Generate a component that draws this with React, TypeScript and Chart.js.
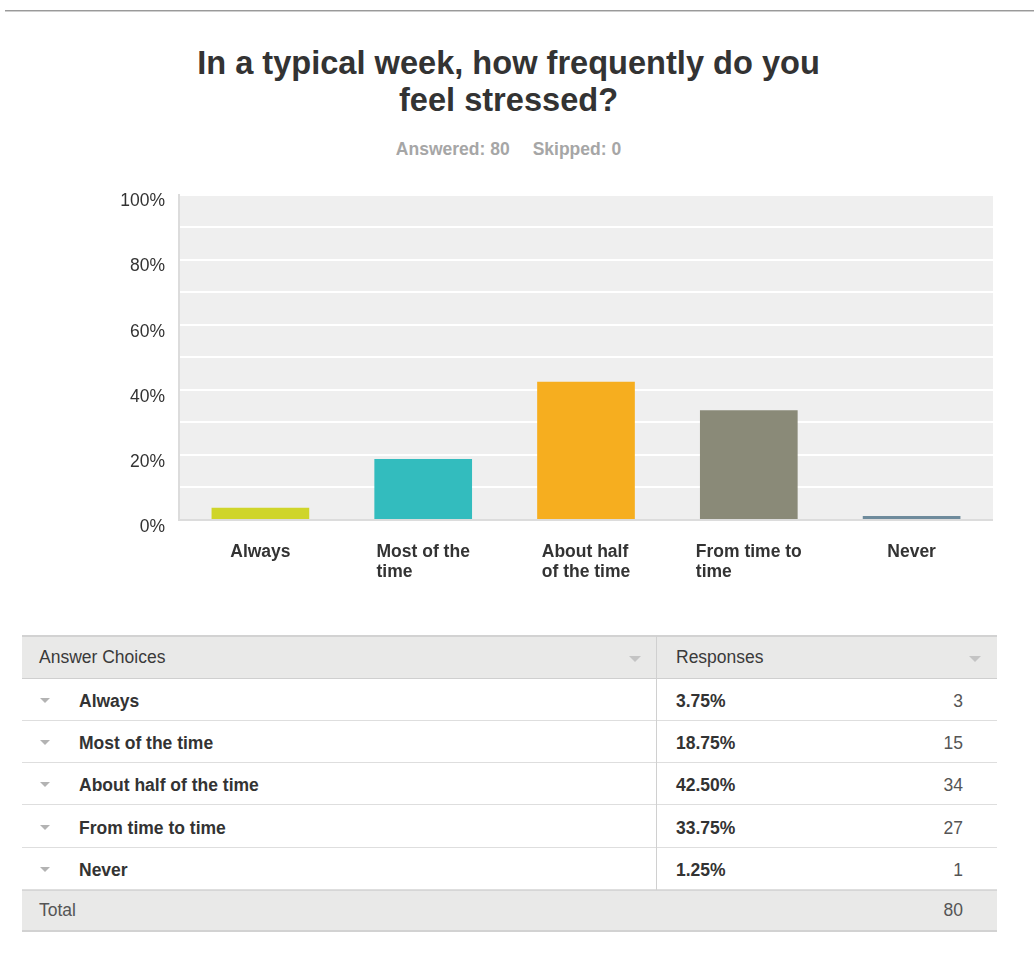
import React, { useEffect, useRef } from 'react';
import { Chart, registerables } from 'chart.js';

Chart.register(...registerables);

const titleLines = ['In a typical week, how frequently do you', 'feel stressed?'];
const answeredText = 'Answered: 80';
const skippedText = 'Skipped: 0';

const choiceNames = ['Always', 'Most of the time', 'About half of the time', 'From time to time', 'Never'];
const categoryLines = [['Always'], ['Most of the', 'time'], ['About half', 'of the time'], ['From time to', 'time'], ['Never']];
const percentages = [3.75, 18.75, 42.5, 33.75, 1.25];
const percentLabels = ['3.75%', '18.75%', '42.50%', '33.75%', '1.25%'];
const counts = [3, 15, 34, 27, 1];
const totalCount = 80;
const barColors = ['#cfd52a', '#33bcbe', '#f6ae1f', '#8a8a78', '#6e8b9c'];

const FONT = '"Liberation Sans", Arial, Helvetica, sans-serif';

const plotPlugin = {
  id: 'plotPlugin',
  beforeDraw(chart: any) {
    const { ctx, chartArea: a } = chart;
    ctx.save();
    ctx.fillStyle = '#efefef';
    ctx.fillRect(a.left, a.top, a.right - a.left, a.bottom - a.top + 1);
    ctx.restore();
  },
  afterDraw(chart: any) {
    const { ctx, chartArea: a } = chart;
    const xs = chart.scales.x;
    ctx.save();
    ctx.font = `bold 17.5px ${FONT}`;
    ctx.fillStyle = '#333333';
    ctx.textBaseline = 'middle';
    ctx.textAlign = 'left';
    categoryLines.forEach((lines, i) => {
      const cx = xs.getPixelForValue(i);
      const w = Math.max(...lines.map((l) => ctx.measureText(l).width));
      lines.forEach((l, j) => ctx.fillText(l, cx - w / 2, a.bottom + 32 + j * 20));
    });
    ctx.restore();
  },
};

function BarChart() {
  const ref = useRef<HTMLCanvasElement>(null);
  useEffect(() => {
    const chart = new Chart(ref.current as HTMLCanvasElement, {
      type: 'bar',
      data: {
        labels: choiceNames,
        datasets: [
          {
            data: percentages,
            backgroundColor: barColors,
            borderWidth: 0,
            barPercentage: 0.6,
            categoryPercentage: 1,
          },
        ],
      },
      options: {
        responsive: false,
        animation: false,
        devicePixelRatio: 1,
        layout: { padding: { top: 10, left: 0, right: 0, bottom: 0 } },
        plugins: { legend: { display: false }, tooltip: { enabled: false }, title: { display: false } },
        scales: {
          x: {
            grid: { display: false },
            border: { display: true, color: '#dcdcdc', width: 2 },
            ticks: { display: false },
            afterFit: (s: any) => {
              s.height = 80;
            },
          },
          y: {
            min: 0,
            max: 100,
            grid: { color: '#ffffff', lineWidth: 2, drawTicks: false },
            border: { display: true, color: '#dcdcdc', width: 2 },
            ticks: {
              stepSize: 10,
              padding: 14,
              labelOffset: 7,
              color: '#333333',
              font: { family: FONT, size: 17.5 },
              callback: (v: any) => (Number(v) % 20 === 0 ? `${v}%` : ''),
            },
            afterFit: (s: any) => {
              s.width = 79;
            },
          },
        },
      },
      plugins: [plotPlugin],
    } as any);
    return () => chart.destroy();
  }, []);
  return (
    <canvas
      ref={ref}
      width={893}
      height={430}
      style={{ position: 'absolute', left: 100, top: 170, width: 893, height: 430 }}
    />
  );
}

function Tri({ left, top, w, h, color }: { left: number; top: number; w: number; h: number; color: string }) {
  return (
    <div
      style={{
        position: 'absolute',
        left,
        top,
        width: 0,
        height: 0,
        borderLeft: `${w / 2}px solid transparent`,
        borderRight: `${w / 2}px solid transparent`,
        borderTop: `${h}px solid ${color}`,
      }}
    />
  );
}

export default function App() {
  const rowTops = choiceNames.map((_, i) => 679 + Math.round(i * 42.2));
  const cell: React.CSSProperties = {
    position: 'absolute',
    display: 'flex',
    alignItems: 'center',
    fontFamily: FONT,
    fontSize: 17.5,
    whiteSpace: 'nowrap',
  };
  return (
    <div style={{ position: 'absolute', left: 0, top: 0, width: 1034, height: 958, background: '#fff', overflow: 'hidden' }}>
      <div style={{ position: 'absolute', left: 5, top: 10, width: 1029, height: 1, background: '#9a9a9a' }} />
      <div style={{ position: 'absolute', left: 5, top: 11, width: 1029, height: 1, background: '#cfcfcf' }} />

      <div
        style={{
          position: 'absolute',
          left: 0,
          top: 44,
          width: 1017,
          textAlign: 'center',
          fontFamily: FONT,
          fontWeight: 'bold',
          fontSize: 32.6,
          lineHeight: '37px',
          color: '#333333',
        }}
      >
        {titleLines.map((l, i) => (
          <div key={i}>{l}</div>
        ))}
      </div>
      <div
        style={{
          position: 'absolute',
          left: 0,
          top: 139,
          width: 1017,
          textAlign: 'center',
          fontFamily: FONT,
          fontWeight: 'bold',
          fontSize: 17.5,
          lineHeight: '20px',
          color: '#a6a6a6',
          whiteSpace: 'nowrap',
        }}
      >
        <span>{answeredText}</span>
        <span style={{ marginLeft: 23 }}>{skippedText}</span>
      </div>

      <BarChart />

      {/* table header */}
      <div style={{ position: 'absolute', left: 22, top: 635, width: 975, height: 44, background: '#e9e9e8', borderTop: '2px solid #d2d2d2', borderBottom: '1px solid #cfcfcf', boxSizing: 'border-box' }} />
      <div style={{ ...cell, left: 39, top: 636, height: 43, color: '#3a3a3a' }}>Answer Choices</div>
      <div style={{ ...cell, left: 676, top: 636, height: 43, color: '#3a3a3a' }}>Responses</div>
      <Tri left={629} top={656} w={12} h={6} color="#c4c4c4" />
      <Tri left={969} top={656} w={12} h={6} color="#c4c4c4" />

      {choiceNames.map((name, i) => (
        <React.Fragment key={name}>
          <div style={{ position: 'absolute', left: 22, top: rowTops[i] + 41, width: 975, height: 1, background: '#dedede' }} />
          <Tri left={40} top={rowTops[i] + 19} w={10} h={5} color="#b3b3b3" />
          <div style={{ ...cell, left: 79, top: rowTops[i] + 1, height: 42, fontWeight: 'bold', color: '#333333' }}>{name}</div>
          <div style={{ ...cell, left: 676, top: rowTops[i] + 1, height: 42, fontWeight: 'bold', color: '#333333' }}>{percentLabels[i]}</div>
          <div style={{ ...cell, left: 863, width: 100, justifyContent: 'flex-end', top: rowTops[i] + 1, height: 42, color: '#555555' }}>{counts[i]}</div>
        </React.Fragment>
      ))}
      <div style={{ position: 'absolute', left: 656, top: 636, width: 1, height: 254, background: '#d0d0d0' }} />

      {/* total row */}
      <div style={{ position: 'absolute', left: 22, top: 890, width: 975, height: 42, background: '#e9e9e8', borderTop: '1px solid #d6d6d6', borderBottom: '2px solid #d2d2d2', boxSizing: 'border-box' }} />
      <div style={{ ...cell, left: 39, top: 890, height: 41, color: '#555555' }}>Total</div>
      <div style={{ ...cell, left: 863, width: 100, justifyContent: 'flex-end', top: 890, height: 41, color: '#555555' }}>{totalCount}</div>
    </div>
  );
}
